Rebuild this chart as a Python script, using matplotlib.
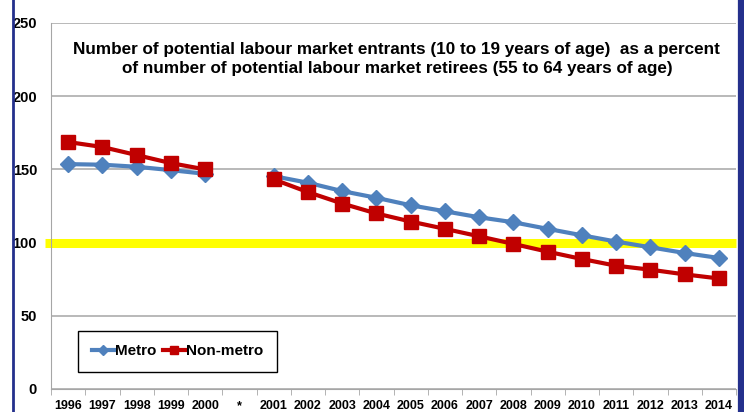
import numpy as np
import matplotlib.pyplot as plt
from matplotlib.lines import Line2D

# categories along the x axis ("*" is a gap year with no data)
years = ['1996', '1997', '1998', '1999', '2000', '*',
         '2001', '2002', '2003', '2004', '2005', '2006', '2007',
         '2008', '2009', '2010', '2011', '2012', '2013', '2014']

metro = [153.6, 153.2, 151.8, 149.5, 147.0, np.nan,
         145.4, 140.9, 135.2, 130.6, 125.5, 121.4, 117.3,
         113.9, 109.4, 105.0, 100.7, 96.8, 92.9, 89.5]

non_metro = [168.7, 165.3, 159.8, 154.3, 150.0, np.nan,
             143.2, 134.5, 126.7, 119.9, 114.4, 109.4, 104.3,
             99.1, 93.8, 88.8, 84.2, 81.5, 78.3, 75.5]

yticks = [0, 50, 100, 150, 200, 250]
threshold = 100

title = ("Number of potential labour market entrants (10 to 19 years of age)  as a percent\n"
         "of number of potential labour market retirees (55 to 64 years of age)")

plt.rcParams['font.family'] = ['Liberation Sans', 'DejaVu Sans']

fig = plt.figure(figsize=(7.44, 4.12), dpi=100)
ax = fig.add_axes([51 / 744, 23 / 412, 685 / 744, 366 / 412])

x = np.arange(len(years))
ax.set_xlim(-0.5, len(years) - 0.5)
ax.set_ylim(0, 250)

# gridlines
for y in yticks:
    ax.axhline(y, color='#A6A6A6', linewidth=1.1, zorder=1)

# yellow 100 line, starts a little left of the axis
ax.plot([-0.009, 1.0], [threshold, threshold], color='#FFFF00', linewidth=6.5,
        transform=ax.get_yaxis_transform(), clip_on=False, zorder=2,
        solid_capstyle='butt')

ax.plot(x, metro, color='#4F81BD', linewidth=3, marker='D', markersize=8,
        label='Metro', zorder=4)
ax.plot(x, non_metro, color='#C00000', linewidth=3, marker='s', markersize=9.5,
        label='Non-metro', zorder=5)

for s in ['top', 'right']:
    ax.spines[s].set_visible(False)
ax.spines['left'].set_color('#A6A6A6')
ax.spines['bottom'].set_color('#A6A6A6')

ax.set_yticks(yticks)
ax.set_yticklabels([str(v) for v in yticks], fontsize=10.5, fontweight='bold')
ax.tick_params(axis='y', length=0, pad=10)

# category labels centred, tick marks between categories
ax.set_xticks(x)
ax.set_xticklabels(years, fontsize=9, fontweight='bold')
ax.tick_params(axis='x', length=0, pad=8)
ax.set_xticks(np.arange(-0.5, len(years)), minor=True)
ax.tick_params(axis='x', which='minor', length=4, color='#A6A6A6', direction='out')

ax.text(0.505, 0.948, title, transform=ax.transAxes, ha='center', va='top',
        fontsize=12.3, fontweight='bold', linespacing=1.32)

leg = ax.legend(loc='lower left', bbox_to_anchor=(27 / 685, 17 / 366), ncol=2,
                frameon=True, fancybox=False, edgecolor='black', framealpha=1,
                prop={'weight': 'bold', 'size': 11}, handlelength=1.5,
                handletextpad=0.0, columnspacing=0.45, borderpad=0.9,
                borderaxespad=0, markerscale=0.6)
leg.get_frame().set_linewidth(1.0)

# navy side borders of the slide
fig.add_artist(Line2D([13 / 744, 13 / 744], [0, 1], color='#24308C', linewidth=2,
                      transform=fig.transFigure))
fig.add_artist(Line2D([741 / 744, 741 / 744], [0, 1], color='#24308C', linewidth=4.5,
                      transform=fig.transFigure))

fig.savefig('out.png', dpi=100)
